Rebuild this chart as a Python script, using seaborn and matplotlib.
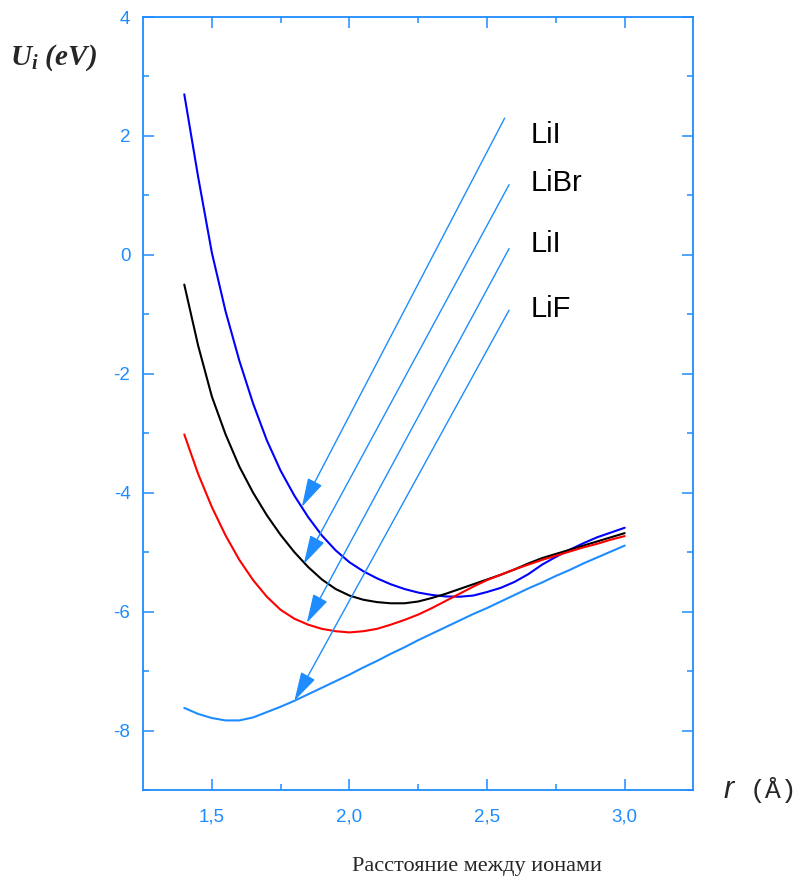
import numpy as np
import pandas as pd
import matplotlib
matplotlib.use("Agg")
import matplotlib.pyplot as plt
import seaborn as sns

# distance between ions, Angstrom
r = [1.40, 1.45, 1.50, 1.55, 1.60, 1.65, 1.70, 1.75, 1.80, 1.85, 1.90,
     1.95, 2.00, 2.05, 2.10, 2.15, 2.20, 2.25, 2.30, 2.35, 2.40, 2.45,
     2.50, 2.55, 2.60, 2.65, 2.70, 2.75, 2.80, 2.85, 2.90, 2.95, 3.00]

# potential energy curves, eV
u_blue = [2.70, 1.32, 0.04, -0.95, -1.78, -2.50, -3.12, -3.63, -4.05, -4.41, -4.72,
          -4.97, -5.17, -5.32, -5.44, -5.54, -5.62, -5.68, -5.72, -5.745, -5.75, -5.73,
          -5.67, -5.60, -5.50, -5.37, -5.21, -5.08, -4.96, -4.85, -4.75, -4.67, -4.59]
u_black = [-0.50, -1.52, -2.38, -3.02, -3.56, -4.00, -4.38, -4.71, -5.00, -5.25, -5.46,
           -5.62, -5.73, -5.80, -5.84, -5.86, -5.86, -5.83, -5.77, -5.70, -5.62, -5.54,
           -5.46, -5.38, -5.29, -5.19, -5.10, -5.03, -4.96, -4.89, -4.82, -4.75, -4.68]
u_red = [-3.02, -3.68, -4.24, -4.72, -5.13, -5.47, -5.75, -5.97, -6.12, -6.22, -6.29,
         -6.33, -6.35, -6.33, -6.29, -6.22, -6.14, -6.05, -5.94, -5.82, -5.70, -5.58,
         -5.47, -5.38, -5.29, -5.21, -5.13, -5.06, -4.99, -4.92, -4.86, -4.79, -4.73]
u_lif = [-7.62, -7.72, -7.79, -7.83, -7.83, -7.78, -7.69, -7.60, -7.50, -7.39, -7.28,
         -7.17, -7.06, -6.94, -6.83, -6.71, -6.60, -6.48, -6.37, -6.26, -6.15, -6.04,
         -5.94, -5.83, -5.72, -5.61, -5.51, -5.40, -5.30, -5.19, -5.09, -4.99, -4.89]

labels = ["LiI", "LiBr", "LiI", "LiF"]
label_y = [2.02, 1.21, 0.18, -0.91]
arrow_tail = [(2.564, 2.30), (2.58, 1.18), (2.58, 0.105), (2.58, -0.93)]
arrow_tip = [(1.827, -4.24), (1.834, -5.20), (1.845, -6.19), (1.80, -7.50)]

axis_color = "#1e8cff"

df = pd.concat([
    pd.DataFrame({"r": r, "U": u_blue, "curve": "blue"}),
    pd.DataFrame({"r": r, "U": u_black, "curve": "black"}),
    pd.DataFrame({"r": r, "U": u_red, "curve": "red"}),
    pd.DataFrame({"r": r, "U": u_lif, "curve": "lif"}),
])

sns.set_style("ticks")
plt.rcParams["font.family"] = ["Liberation Sans", "DejaVu Sans"]
plt.rcParams["axes.unicode_minus"] = False
plt.rcParams["mathtext.fontset"] = "custom"
plt.rcParams["mathtext.rm"] = "Liberation Serif:bold:italic"
plt.rcParams["mathtext.it"] = "Liberation Serif:bold:italic"
plt.rcParams["mathtext.bf"] = "Liberation Serif:bold:italic"

fig = plt.figure(figsize=(8.02, 8.81), dpi=100)
ax = fig.add_axes([0.1783, 0.1033, 0.6864, 0.8774])

palette = {"blue": "#0000ff", "black": "#000000", "red": "#ff0000", "lif": axis_color}
sns.lineplot(data=df, x="r", y="U", hue="curve", palette=palette,
             linewidth=1.5, legend=False, ax=ax, sort=False)

for tail, tip in zip(arrow_tail, arrow_tip):
    ax.annotate("", xy=tip, xytext=tail,
                arrowprops=dict(arrowstyle="-|>,head_length=1.2,head_width=0.33",
                                color=axis_color, lw=1.0, mutation_scale=15,
                                shrinkA=0, shrinkB=0))

for txt, y in zip(labels, label_y):
    ax.text(2.657, y, txt, fontsize=21, va="center", ha="left", color="black")

ax.set_xlim(1.25, 3.25)
ax.set_ylim(-9, 4)
ax.set_xticks([1.5, 2.0, 2.5, 3.0])
ax.set_xticklabels(["1,5", "2,0", "2,5", "3,0"])
ax.set_xticks([1.75, 2.25, 2.75], minor=True)
ax.set_yticks([-8, -6, -4, -2, 0, 2, 4])
ax.set_yticklabels(["-8", "-6", "-4", "-2", "0", "2", "4"])
ax.set_yticks([-9, -7, -5, -3, -1, 1, 3], minor=True)
ax.set_xlabel("")
ax.set_ylabel("")

for side in ["left", "right", "top", "bottom"]:
    ax.spines[side].set_visible(True)
    ax.spines[side].set_color(axis_color)
    ax.spines[side].set_linewidth(1.3)

ax.tick_params(which="both", direction="in", top=True, right=True,
               color=axis_color, labelcolor=axis_color, width=1.1, labelsize=13.5)
ax.tick_params(which="major", length=8)
ax.tick_params(which="minor", length=4)
ax.tick_params(axis="x", pad=13)
ax.tick_params(axis="y", pad=9)

fig.text(0.0125, 0.935, r"$U_i\ (eV)$", fontsize=21, va="center", ha="left")
fig.text(0.9027, 0.103, "r", fontsize=22, style="italic", va="center", ha="left")
fig.text(0.935, 0.103, "(Å)", fontsize=19, family=["Liberation Mono", "DejaVu Sans Mono"],
         va="center", ha="left")
fig.text(0.595, 0.017, "Расстояние между ионами", fontsize=16,
         family=["Liberation Serif", "DejaVu Serif"], va="center", ha="center")

fig.savefig("out.png", dpi=100)
